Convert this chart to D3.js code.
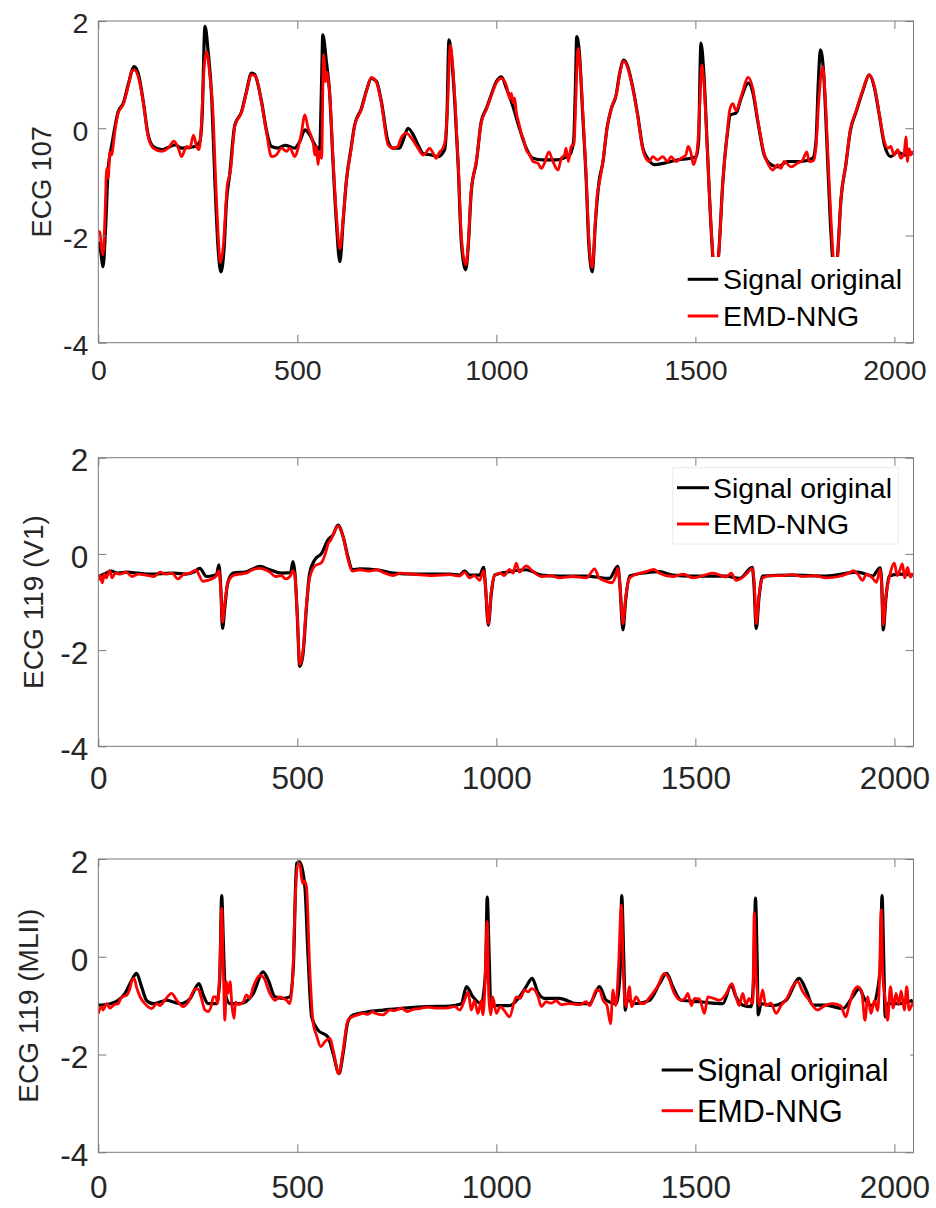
<!DOCTYPE html>
<html>
<head>
<meta charset="utf-8">
<script src="https://cdn.jsdelivr.net/npm/d3@7/dist/d3.min.js"></script>
<style>
  html, body { margin: 0; padding: 0; background: #fff; }
  svg { display: block; font-family: "Liberation Sans", Arial, sans-serif; }
</style>
</head>
<body>
<svg id="chart" width="936" height="1208"></svg>
<script>
// Sample index axis and amplitude ticks shared by all three records
const xTicks = [0, 500, 1000, 1500, 2000];
const yTicks = [-4, -2, 0, 2];
const seriesNames = ["Signal original", "EMD-NNG"];

// Record 107: original signal [sample, mV]
const ecg107Original = [[0,-2.12],[6,-2.3],[12,-2.58],[18,-1.9],[25,-0.75],[34,-0.31],[50,0.31],[63,0.47],[75,0.81],[90,1.15],[100,1.03],[113,0.5],[125,-0.12],[138,-0.34],[159,-0.40],[175,-0.36],[193,-0.31],[209,-0.37],[243,-0.34],[255,-0.25],[261,0.25],[268,1.90],[276,1.43],[285,0.56],[293,-1.0],[301,-2.24],[308,-2.68],[316,-2.24],[322,-1.37],[330,-0.87],[343,0.06],[360,0.31],[372,0.68],[385,1.03],[393,1.0],[410,0.5],[423,-0.06],[435,-0.34],[452,-0.37],[469,-0.32],[494,-0.37],[506,-0.25],[519,-0.03],[531,-0.12],[544,-0.31],[556,-0.40],[561,0.87],[564,1.74],[573,1.24],[581,0.68],[590,-0.68],[598,-1.74],[607,-2.49],[615,-1.74],[623,-1.0],[635,-0.37],[644,0.06],[661,0.37],[674,0.71],[686,0.93],[699,0.87],[711,0.5],[728,-0.25],[740,-0.37],[757,-0.37],[766,-0.22],[778,0.0],[791,-0.12],[803,-0.31],[816,-0.47],[837,-0.50],[853,-0.53],[870,-0.40],[876,0.25],[881,1.65],[887,1.37],[895,0.56],[904,-0.68],[912,-2.12],[923,-2.64],[929,-2.24],[937,-1.18],[950,-0.62],[962,0.12],[975,0.37],[987,0.62],[1000,0.87],[1013,0.96],[1025,0.75],[1042,0.40],[1058,0.0],[1075,-0.37],[1092,-0.56],[1117,-0.59],[1150,-0.59],[1184,-0.50],[1194,-0.25],[1199,0.87],[1202,1.71],[1209,1.37],[1217,0.25],[1226,-1.0],[1232,-2.12],[1241,-2.68],[1249,-1.74],[1258,-1.0],[1268,-0.62],[1278,0.0],[1289,0.37],[1301,0.62],[1309,0.99],[1320,1.27],[1330,1.15],[1343,0.75],[1355,0.25],[1368,-0.37],[1380,-0.56],[1397,-0.68],[1422,-0.65],[1456,-0.59],[1489,-0.56],[1502,-0.53],[1508,-0.25],[1514,1.59],[1521,1.06],[1530,-0.37],[1540,-1.93],[1549,-2.75],[1558,-2.4],[1569,-1.0],[1580,-0.12],[1588,0.25],[1602,0.28],[1615,0.56],[1633,0.84],[1644,0.68],[1657,0.12],[1673,-0.50],[1690,-0.68],[1707,-0.72],[1732,-0.62],[1766,-0.62],[1795,-0.56],[1803,-0.25],[1809,0.87],[1814,1.46],[1822,1.06],[1831,-0.37],[1839,-1.74],[1851,-2.75],[1857,-2.4],[1866,-1.31],[1878,-0.68],[1889,-0.06],[1904,0.31],[1920,0.68],[1937,0.99],[1950,0.75],[1962,0.25],[1975,-0.31],[1991,-0.53],[2008,-0.44],[2025,-0.50],[2045,-0.47]];

// Record 107: EMD-NNG reconstruction
const ecg107Emd = [[0,-1.93],[4,-1.93],[8,-2.24],[12,-2.36],[17,-1.6],[21,-0.75],[25,-0.93],[29,-0.44],[34,-0.5],[38,-0.28],[42,-0.05],[50,0.28],[63,0.45],[75,0.78],[84,1.06],[90,1.09],[100,0.97],[113,0.48],[125,-0.15],[138,-0.37],[159,-0.43],[176,-0.37],[190,-0.24],[201,-0.37],[209,-0.53],[222,-0.34],[230,-0.37],[239,-0.13],[247,-0.34],[253,-0.40],[259,0.06],[264,0.9],[272,1.43],[280,1.0],[288,0.3],[295,-1.0],[302,-2.1],[306,-2.5],[314,-2.2],[320,-1.5],[324,-1.06],[328,-0.93],[332,-0.8],[343,0.04],[360,0.3],[372,0.66],[385,1.0],[395,0.97],[410,0.48],[423,-0.1],[435,-0.53],[447,-0.50],[460,-0.37],[473,-0.43],[481,-0.37],[494,-0.53],[502,-0.37],[510,-0.1],[519,0.25],[527,0.0],[540,-0.28],[544,-0.5],[548,-0.34],[552,-0.68],[556,-0.43],[561,-0.56],[566,1.37],[571,0.87],[574,1.05],[581,0.68],[590,-0.6],[598,-1.6],[607,-2.25],[615,-1.7],[623,-1.0],[635,-0.4],[644,0.04],[661,0.35],[674,0.7],[686,0.95],[699,0.85],[711,0.48],[728,-0.31],[740,-0.37],[753,-0.34],[757,-0.25],[766,-0.12],[774,-0.09],[787,-0.19],[803,-0.37],[816,-0.50],[824,-0.45],[832,-0.37],[840,-0.45],[849,-0.56],[857,-0.45],[866,-0.37],[872,-0.2],[878,0.5],[884,1.55],[890,1.2],[897,0.4],[905,-0.8],[912,-2.0],[923,-2.55],[929,-2.2],[937,-1.15],[942,-0.9],[950,-0.6],[962,0.1],[975,0.35],[987,0.6],[1000,0.85],[1013,0.93],[1025,0.8],[1034,0.55],[1038,0.65],[1042,0.47],[1046,0.56],[1050,0.31],[1058,0.05],[1062,-0.09],[1068,-0.2],[1075,-0.4],[1084,-0.50],[1092,-0.62],[1104,-0.65],[1113,-0.75],[1121,-0.65],[1132,-0.44],[1142,-0.62],[1155,-0.78],[1163,-0.56],[1171,-0.50],[1175,-0.37],[1181,-0.62],[1188,-0.34],[1195,-0.3],[1200,0.6],[1205,1.49],[1211,1.1],[1218,0.2],[1226,-0.95],[1232,-2.0],[1241,-2.6],[1249,-1.7],[1254,-1.2],[1258,-1.05],[1268,-0.6],[1278,0.0],[1289,0.37],[1295,0.5],[1301,0.62],[1309,0.97],[1320,1.25],[1330,1.13],[1343,0.73],[1355,0.23],[1368,-0.4],[1372,-0.50],[1384,-0.62],[1393,-0.53],[1405,-0.59],[1418,-0.53],[1430,-0.62],[1439,-0.53],[1451,-0.62],[1464,-0.56],[1476,-0.50],[1482,-0.34],[1488,-0.43],[1495,-0.68],[1501,-0.56],[1506,-0.3],[1512,0.6],[1516,1.18],[1522,0.8],[1530,-0.4],[1540,-1.9],[1549,-2.7],[1558,-2.4],[1569,-1.0],[1580,-0.1],[1586,0.33],[1594,0.46],[1602,0.33],[1615,0.59],[1633,0.95],[1644,0.75],[1657,0.15],[1673,-0.48],[1685,-0.7],[1694,-0.78],[1707,-0.68],[1715,-0.75],[1723,-0.62],[1740,-0.72],[1757,-0.65],[1769,-0.6],[1780,-0.44],[1786,-0.62],[1797,-0.6],[1803,-0.35],[1810,0.5],[1820,1.15],[1826,0.6],[1833,-0.5],[1841,-1.74],[1851,-2.7],[1857,-2.4],[1866,-1.3],[1878,-0.68],[1889,-0.04],[1904,0.33],[1920,0.7],[1937,1.0],[1950,0.77],[1962,0.27],[1975,-0.25],[1983,-0.37],[1991,-0.34],[1999,-0.50],[2008,-0.40],[2016,-0.56],[2025,-0.43],[2029,-0.16],[2033,-0.62],[2037,-0.38],[2041,-0.5],[2045,-0.42]];

// Record 119, lead V1: original signal
const ecg119V1Original = [[0,-0.47],[15,-0.42],[32,-0.36],[50,-0.40],[71,-0.38],[100,-0.40],[130,-0.42],[160,-0.41],[190,-0.40],[220,-0.42],[240,-0.38],[255,-0.30],[272,-0.47],[290,-0.45],[297,-0.43],[303,-0.23],[308,-0.75],[312,-1.55],[318,-1.1],[325,-0.61],[339,-0.40],[372,-0.37],[406,-0.26],[431,-0.33],[460,-0.40],[483,-0.39],[489,-0.16],[494,-0.40],[500,-1.30],[506,-2.34],[514,-2.1],[523,-1.1],[531,-0.40],[544,-0.12],[561,0.01],[577,0.29],[590,0.40],[602,0.60],[615,0.36],[627,-0.06],[638,-0.33],[657,-0.31],[699,-0.33],[741,-0.40],[799,-0.42],[883,-0.42],[908,-0.44],[920,-0.35],[933,-0.44],[958,-0.44],[968,-0.28],[972,-0.6],[980,-1.48],[987,-0.85],[996,-0.44],[1033,-0.37],[1075,-0.33],[1113,-0.44],[1159,-0.46],[1226,-0.46],[1284,-0.51],[1305,-0.26],[1310,-0.6],[1318,-1.58],[1325,-0.95],[1335,-0.46],[1376,-0.39],[1410,-0.37],[1443,-0.44],[1493,-0.46],[1577,-0.46],[1611,-0.51],[1643,-0.28],[1647,-0.6],[1653,-1.55],[1660,-0.9],[1669,-0.46],[1744,-0.44],[1828,-0.46],[1908,-0.38],[1945,-0.46],[1964,-0.29],[1968,-0.6],[1972,-1.58],[1979,-0.9],[1987,-0.46],[2012,-0.42],[2046,-0.44]];

// Record 119, lead V1: EMD-NNG reconstruction
const ecg119V1Emd = [[0,-0.55],[5,-0.45],[10,-0.6],[15,-0.42],[20,-0.5],[28,-0.35],[35,-0.5],[42,-0.4],[55,-0.42],[70,-0.38],[85,-0.47],[100,-0.42],[120,-0.44],[140,-0.47],[155,-0.38],[170,-0.42],[185,-0.40],[200,-0.52],[215,-0.42],[230,-0.40],[245,-0.34],[263,-0.57],[275,-0.55],[290,-0.50],[297,-0.45],[303,-0.35],[308,-0.8],[312,-1.42],[318,-1.0],[325,-0.62],[339,-0.45],[355,-0.42],[372,-0.40],[390,-0.32],[406,-0.30],[431,-0.38],[445,-0.47],[460,-0.45],[470,-0.52],[483,-0.45],[489,-0.35],[494,-0.45],[500,-1.30],[506,-2.30],[514,-2.05],[523,-1.05],[531,-0.50],[544,-0.25],[561,-0.18],[572,0.05],[577,0.20],[585,0.30],[590,0.40],[602,0.58],[615,0.36],[627,-0.1],[638,-0.36],[657,-0.33],[680,-0.36],[699,-0.33],[720,-0.40],[741,-0.45],[760,-0.40],[799,-0.43],[840,-0.45],[883,-0.43],[908,-0.46],[920,-0.38],[933,-0.50],[945,-0.45],[958,-0.55],[968,-0.35],[973,-0.7],[980,-1.45],[987,-0.8],[996,-0.45],[1010,-0.40],[1020,-0.45],[1033,-0.32],[1042,-0.40],[1050,-0.19],[1058,-0.38],[1075,-0.25],[1090,-0.35],[1113,-0.47],[1135,-0.45],[1159,-0.50],[1190,-0.47],[1226,-0.50],[1247,-0.31],[1258,-0.50],[1276,-0.57],[1290,-0.60],[1300,-0.45],[1305,-0.30],[1311,-0.7],[1318,-1.45],[1325,-0.9],[1335,-0.50],[1350,-0.43],[1376,-0.37],[1395,-0.32],[1410,-0.40],[1443,-0.47],[1470,-0.42],[1493,-0.50],[1520,-0.45],[1545,-0.40],[1577,-0.48],[1590,-0.40],[1602,-0.55],[1620,-0.48],[1630,-0.40],[1643,-0.30],[1648,-0.6],[1653,-1.45],[1660,-0.85],[1669,-0.50],[1690,-0.45],[1720,-0.45],[1744,-0.43],[1770,-0.47],[1800,-0.45],[1828,-0.50],[1860,-0.47],[1885,-0.40],[1897,-0.35],[1908,-0.42],[1920,-0.55],[1930,-0.42],[1945,-0.50],[1955,-0.59],[1964,-0.32],[1968,-0.65],[1972,-1.48],[1979,-0.85],[1987,-0.50],[2000,-0.19],[2007,-0.45],[2013,-0.35],[2020,-0.21],[2026,-0.50],[2033,-0.28],[2040,-0.48],[2046,-0.40]];

// Record 119, lead MLII: original signal
const ecg119MliiOriginal = [[0,-0.99],[30,-0.96],[50,-0.89],[67,-0.75],[84,-0.48],[96,-0.34],[109,-0.62],[121,-0.89],[138,-0.96],[172,-0.89],[205,-0.96],[230,-0.86],[253,-0.55],[264,-0.79],[276,-0.96],[297,-0.96],[305,-0.48],[310,1.25],[314,0.34],[318,-0.6],[321,-0.82],[331,-0.96],[356,-0.96],[389,-0.76],[414,-0.31],[427,-0.48],[444,-0.82],[464,-0.85],[481,-0.82],[490,-0.20],[498,1.91],[506,1.94],[519,1.43],[527,0.0],[536,-1.23],[552,-1.50],[577,-1.64],[590,-1.98],[605,-2.39],[615,-1.98],[627,-1.33],[640,-1.19],[674,-1.13],[716,-1.09],[757,-1.06],[824,-1.02],[883,-1.01],[912,-0.96],[925,-0.61],[941,-0.82],[962,-0.96],[973,-0.30],[977,1.22],[982,0.0],[986,-1.02],[1000,-1.0],[1033,-1.0],[1058,-0.82],[1075,-0.61],[1090,-0.44],[1104,-0.72],[1121,-0.85],[1159,-0.85],[1201,-0.96],[1234,-0.96],[1259,-0.61],[1276,-0.89],[1301,-0.96],[1311,-0.30],[1315,1.25],[1320,0.0],[1324,-1.09],[1329,-0.89],[1351,-0.96],[1385,-0.89],[1410,-0.55],[1428,-0.34],[1443,-0.61],[1464,-0.89],[1510,-0.92],[1569,-0.96],[1590,-0.58],[1602,-0.82],[1619,-0.99],[1640,-1.02],[1647,-0.30],[1651,1.2],[1655,0.0],[1658,-1.19],[1665,-0.96],[1694,-1.0],[1728,-0.89],[1761,-0.44],[1778,-0.68],[1795,-0.99],[1828,-0.99],[1870,-1.06],[1895,-0.82],[1912,-0.65],[1924,-0.85],[1945,-1.0],[1964,-0.30],[1969,1.25],[1973,0.0],[1977,-1.23],[1983,-0.96],[2012,-0.96],[2046,-0.89]];

// Record 119, lead MLII: EMD-NNG reconstruction
const ecg119MliiEmd = [[0,-1.16],[8,-1.02],[12,-1.09],[21,-0.96],[29,-1.05],[40,-0.98],[50,-0.96],[59,-0.82],[71,-0.79],[79,-0.66],[85,-0.48],[90,-0.44],[96,-0.62],[105,-0.82],[117,-0.96],[134,-1.06],[147,-0.96],[155,-1.0],[167,-0.89],[184,-0.75],[197,-0.89],[213,-1.02],[226,-0.93],[243,-0.66],[251,-0.66],[258,-0.82],[268,-1.09],[276,-1.12],[284,-1.0],[289,-0.82],[295,-0.82],[300,-0.96],[305,-0.3],[310,0.99],[314,-0.20],[318,-1.30],[322,-0.51],[326,-0.75],[331,-0.51],[336,-1.02],[341,-1.26],[345,-0.93],[352,-0.98],[364,-0.93],[372,-0.78],[380,-0.85],[389,-0.62],[406,-0.38],[415,-0.42],[431,-0.75],[444,-0.89],[456,-0.82],[464,-0.85],[473,-0.89],[481,-0.96],[488,-0.5],[494,1.0],[500,1.85],[506,1.91],[511,1.6],[514,1.50],[518,1.55],[523,1.43],[531,-0.20],[540,-1.37],[548,-1.60],[559,-1.84],[569,-1.74],[582,-1.67],[590,-1.91],[604,-2.39],[615,-1.91],[627,-1.30],[640,-1.22],[652,-1.19],[665,-1.16],[677,-1.18],[690,-1.12],[694,-1.15],[715,-1.19],[732,-1.09],[745,-1.1],[761,-1.05],[775,-1.12],[790,-1.08],[807,-1.06],[828,-1.03],[849,-1.05],[874,-1.05],[895,-1.02],[908,-1.09],[920,-0.89],[929,-0.72],[937,-1.09],[945,-0.9],[954,-1.16],[962,-0.9],[966,-1.19],[970,-0.86],[977,0.72],[981,-0.82],[986,-1.19],[991,-0.82],[1000,-1.16],[1010,-1.02],[1020,-1.1],[1033,-1.23],[1050,-0.82],[1060,-0.85],[1071,-0.68],[1080,-0.72],[1088,-0.65],[1096,-0.68],[1105,-0.82],[1113,-1.02],[1125,-0.92],[1138,-0.95],[1150,-0.9],[1163,-0.98],[1184,-0.96],[1209,-0.98],[1226,-0.92],[1235,-1.0],[1251,-0.68],[1260,-0.7],[1268,-0.89],[1278,-1.0],[1287,-1.37],[1293,-0.68],[1297,-0.9],[1300,-1.0],[1307,-0.2],[1314,1.06],[1319,-0.3],[1322,-0.82],[1326,-1.02],[1334,-0.61],[1340,-1.02],[1351,-0.82],[1362,-0.95],[1372,-0.96],[1380,-0.88],[1389,-0.79],[1405,-0.61],[1422,-0.34],[1432,-0.42],[1447,-0.75],[1464,-0.89],[1474,-0.85],[1481,-0.75],[1490,-1.0],[1498,-0.85],[1510,-0.86],[1523,-1.16],[1531,-0.82],[1545,-0.85],[1561,-0.89],[1578,-0.75],[1592,-0.55],[1602,-0.82],[1610,-1.0],[1619,-0.75],[1627,-0.98],[1635,-0.85],[1644,-0.96],[1648,0.9],[1652,-0.3],[1656,-0.75],[1661,-1.0],[1669,-0.68],[1677,-1.0],[1690,-0.95],[1703,-1.16],[1715,-1.0],[1732,-0.82],[1744,-0.61],[1757,-0.51],[1769,-0.7],[1786,-0.89],[1807,-1.09],[1825,-1.0],[1845,-0.96],[1865,-1.0],[1878,-1.23],[1886,-1.0],[1895,-0.75],[1908,-0.61],[1918,-0.72],[1926,-1.30],[1933,-0.82],[1941,-1.16],[1950,-0.9],[1958,-1.1],[1962,-0.6],[1967,0.96],[1971,-0.4],[1976,-0.8],[1983,-1.30],[1990,-0.61],[1997,-1.05],[2004,-0.75],[2011,-0.98],[2017,-0.7],[2025,-1.09],[2031,-0.61],[2037,-1.09],[2046,-0.93]];

const svg = d3.select("#chart");
svg.append("rect").attr("width", 936).attr("height", 1208).attr("fill", "#fff");

const left = 98.3, right = 913.5;
const x = d3.scaleLinear().domain([0, 2048]).range([left, right]);

const panels = [
  { id: "p107", ylabel: "ECG 107", top: 21, bottom: 342.7, labelX: 42, labelSize: 27, tickSize: 28.5, xPad: 17,
    orig: ecg107Original, emd: ecg107Emd,
    legend: { box: [680, 257, 231, 80], stroke: "none", lineX: 687.7, lineW: 30.5, y1: 279.3, y2: 316, textX: 723, fs: 28.5 } },
  { id: "p119v1", ylabel: "ECG 119 (V1)", top: 457.7, bottom: 746.3, labelX: 33, labelSize: 28, tickSize: 31.5, xPad: 20,
    orig: ecg119V1Original, emd: ecg119V1Emd,
    legend: { box: [672.7, 467.7, 225.6, 76.3], stroke: "#ececec", lineX: 677, lineW: 32, y1: 487.7, y2: 524, textX: 713, fs: 28.5 } },
  { id: "p119ml", ylabel: "ECG 119 (MLII)", top: 859, bottom: 1152.3, labelX: 28, labelSize: 28, tickSize: 31.5, xPad: 23,
    orig: ecg119MliiOriginal, emd: ecg119MliiEmd,
    legend: { box: [654, 1048, 256, 84], stroke: "none", lineX: 661.7, lineW: 31.3, y1: 1070, y2: 1110.7, textX: 697, fs: 30.5 } }
];

const textColor = "#262626";
const axisColor = "#7a7a7a";
const plainNumber = d => String(d);   // ASCII hyphen for negative ticks

panels.forEach(p => {
  const y = d3.scaleLinear().domain([-4, 2]).range([p.bottom, p.top]);
  const g = svg.append("g").attr("id", p.id);

  // clip region for the traces
  svg.append("clipPath").attr("id", "clip-" + p.id)
    .append("rect").attr("x", left).attr("y", p.top).attr("width", right - left).attr("height", p.bottom - p.top);

  const line = d3.line().x(d => x(d[0])).y(d => y(d[1])).curve(d3.curveMonotoneX);
  const traces = g.append("g").attr("clip-path", "url(#clip-" + p.id + ")");
  traces.append("path").datum(p.orig).attr("d", line)
    .attr("fill", "none").attr("stroke", "#000").attr("stroke-width", 3.2).attr("stroke-linejoin", "round");
  traces.append("path").datum(p.emd).attr("d", line)
    .attr("fill", "none").attr("stroke", "#ff0000").attr("stroke-width", 2.8).attr("stroke-linejoin", "round");

  // axes with inward ticks on all four sides
  const styleAxis = sel => {
    sel.select(".domain").remove();
    sel.selectAll(".tick line").attr("stroke", axisColor).attr("stroke-width", 1);
    sel.selectAll("text").attr("fill", textColor).attr("font-family", "'Liberation Sans', Arial, sans-serif");
  };
  g.append("g").attr("transform", `translate(0,${p.bottom})`)
    .call(d3.axisBottom(x).tickValues(xTicks).tickSize(-8).tickPadding(p.xPad).tickFormat(plainNumber))
    .call(styleAxis)
    .selectAll("text").attr("font-size", p.tickSize);
  g.append("g").attr("transform", `translate(0,${p.top})`)
    .call(d3.axisTop(x).tickValues(xTicks).tickSize(-8).tickFormat(""))
    .call(styleAxis);
  g.append("g").attr("transform", `translate(${left},0)`)
    .call(d3.axisLeft(y).tickValues(yTicks).tickSize(-8).tickPadding(10).tickFormat(plainNumber))
    .call(styleAxis)
    .selectAll("text").attr("font-size", p.tickSize).attr("dy", "0.42em");
  g.append("g").attr("transform", `translate(${right},0)`)
    .call(d3.axisRight(y).tickValues(yTicks).tickSize(-8).tickFormat(""))
    .call(styleAxis);

  // axes box
  g.append("rect").attr("x", left).attr("y", p.top).attr("width", right - left).attr("height", p.bottom - p.top)
    .attr("fill", "none").attr("stroke", axisColor).attr("stroke-width", 1);

  // y label
  g.append("text")
    .attr("transform", `translate(${p.labelX},${(p.top + p.bottom) / 2}) rotate(-90)`)
    .attr("text-anchor", "middle").attr("dominant-baseline", "central")
    .attr("font-size", p.labelSize).attr("fill", textColor)
    .text(p.ylabel);

  // legend
  const L = p.legend;
  const lg = g.append("g");
  lg.append("rect").attr("x", L.box[0]).attr("y", L.box[1]).attr("width", L.box[2]).attr("height", L.box[3])
    .attr("fill", "#fff").attr("stroke", L.stroke);
  [["#000", L.y1, seriesNames[0]], ["#ff0000", L.y2, seriesNames[1]]].forEach(([c, yy, name]) => {
    lg.append("line").attr("x1", L.lineX).attr("x2", L.lineX + L.lineW).attr("y1", yy).attr("y2", yy)
      .attr("stroke", c).attr("stroke-width", 3);
    lg.append("text").attr("x", L.textX).attr("y", yy).attr("dominant-baseline", "central")
      .attr("font-size", L.fs).attr("fill", "#000").text(name);
  });
});
</script>
</body>
</html>
